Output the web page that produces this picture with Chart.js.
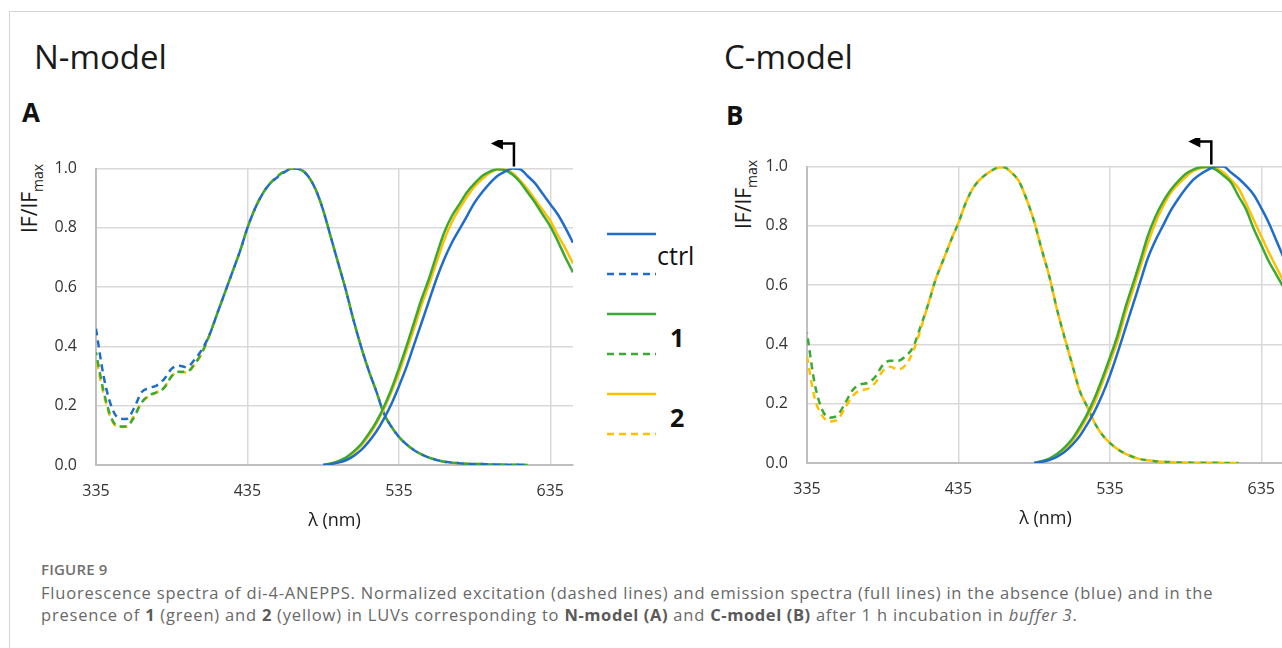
<!DOCTYPE html>
<html>
<head>
<meta charset="utf-8">
<script src="https://cdn.jsdelivr.net/npm/chart.js@4.4.1/dist/chart.umd.min.js"></script>
<style>
  html, body { margin: 0; padding: 0; background: #fff; overflow: hidden; }
  body { width: 1282px; height: 648px; position: relative; font-family: "Open Sans", sans-serif; }
  .frame { position: absolute; left: 9px; top: 11px; width: 1400px; height: 700px;
           border-left: 1.5px solid #d4d4d4; border-top: 1.5px solid #d4d4d4; }
  .model { position: absolute; font-size: 33px; color: #1a1a1a; line-height: 1; }
  .panel { position: absolute; font-size: 26px; font-weight: bold; color: #111; line-height: 1; }
  .ytitle { position: absolute; font-size: 21px; color: #1a1a1a; line-height: 1; white-space: nowrap;
            transform-origin: left top; transform: rotate(-90deg); }
  .ytitle sub { font-size: 14px; vertical-align: -6px; }
  canvas.chart { position: absolute; }
  .leg { position: absolute; }
  .legtxt { position: absolute; font-size: 25px; color: #111; line-height: 1; }
  .caption { position: absolute; left: 41px; top: 558px; width: 1240px; font-family: "Open Sans", sans-serif;
             color: #686868; font-size: 16.5px; line-height: 22px; letter-spacing: 0.8px; white-space: nowrap; }
  .caption .fig { color: #707070; font-size: 15px; font-weight: 600; letter-spacing: 0.2px; margin-bottom: 2px; }
  .caption b { font-weight: 700; color: #5a5a5a; letter-spacing: 0.6px; }
</style>
</head>
<body>
<div class="frame"></div>

<div class="model" style="left:34px; top:40px;">N-model</div>
<div class="model" style="left:724px; top:40px;">C-model</div>
<div class="panel" style="left:22px; top:99px;">A</div>
<div class="panel" style="left:726px; top:102px;">B</div>

<div class="ytitle" style="left:19px; top:233px;">IF/IF<sub>max</sub></div>
<div class="ytitle" style="left:733px; top:229px;">IF/IF<sub>max</sub></div>

<canvas id="chartA" class="chart" width="545" height="400" style="left:40px; top:140px;"></canvas>
<canvas id="chartB" class="chart" width="545" height="400" style="left:751px; top:138px;"></canvas>

<svg class="leg" style="left:600px; top:225px;" width="70" height="220">
  <line x1="7" y1="9" x2="56" y2="9" stroke="#1F6DC9" stroke-width="2.5"/>
  <line x1="7" y1="49" x2="56" y2="49" stroke="#1F6DC9" stroke-width="2.5" stroke-dasharray="7,5"/>
  <line x1="7" y1="89" x2="56" y2="89" stroke="#3BA935" stroke-width="2.5"/>
  <line x1="7" y1="129" x2="56" y2="129" stroke="#3BA935" stroke-width="2.5" stroke-dasharray="7,5"/>
  <line x1="7" y1="169" x2="56" y2="169" stroke="#FFC000" stroke-width="2.5"/>
  <line x1="7" y1="209" x2="56" y2="209" stroke="#FFC000" stroke-width="2.5" stroke-dasharray="7,5"/>
</svg>
<div class="legtxt" style="left:657px; top:243px;">ctrl</div>
<div class="legtxt" style="left:670px; top:325px; font-weight:bold;">1</div>
<div class="legtxt" style="left:670px; top:405px; font-weight:bold;">2</div>

<div class="caption">
  <div class="fig">FIGURE 9</div>
  <div>Fluorescence spectra of di-4-ANEPPS. Normalized excitation (dashed lines) and emission spectra (full lines) in the absence (blue) and in the<br>presence of <b>1</b> (green) and <b>2</b> (yellow) in LUVs corresponding to <b>N-model (A)</b> and <b>C-model (B)</b> after 1 h incubation in <i>buffer 3</i>.</div>
</div>

<script>
// Wellenlängen (nm)
const excWl = [335, 340, 345, 350, 355, 360, 365, 370, 375, 380, 385, 390, 395, 400, 405, 410,
  415, 420, 425, 430, 435, 440, 445, 450, 455, 460, 465, 470, 475, 480, 485, 490, 495, 500,
  505, 510, 515, 520, 525, 530, 535, 540, 545, 550, 555, 560, 565, 570, 575, 580, 585, 590,
  595, 600, 605, 610, 615, 620];
const emWl = [485, 490, 495, 500, 505, 510, 515, 520, 525, 530, 535, 540, 545, 550, 555, 560,
  565, 570, 575, 580, 585, 590, 595, 600, 605, 610, 615, 620, 625, 630, 635, 640, 645, 650];

// N-model (A): Anregung (gestrichelt)
const excCtrlA = [0.46, 0.30, 0.20, 0.158, 0.155, 0.19, 0.245, 0.26, 0.268, 0.29, 0.325, 0.335, 0.33, 0.355, 0.39, 0.44,
  0.51, 0.58, 0.65, 0.72, 0.80, 0.865, 0.915, 0.95, 0.972, 0.99, 1.0, 0.997, 0.975, 0.93, 0.86, 0.77, 0.68, 0.59,
  0.49, 0.40, 0.32, 0.25, 0.175, 0.13, 0.095, 0.07, 0.05, 0.036, 0.025, 0.017, 0.011, 0.008, 0.006, 0.004, 0.003, 0.003,
  0.002, 0.002, 0.001, 0.001, 0.001, 0.0];
const exc1A = [0.38, 0.25, 0.16, 0.13, 0.13, 0.16, 0.21, 0.235, 0.245, 0.26, 0.30, 0.315, 0.315, 0.34, 0.38, 0.44,
  0.51, 0.58, 0.65, 0.72, 0.80, 0.865, 0.915, 0.95, 0.975, 0.992, 1.0, 0.997, 0.975, 0.93, 0.86, 0.77, 0.68, 0.59,
  0.49, 0.40, 0.32, 0.25, 0.175, 0.13, 0.095, 0.07, 0.05, 0.036, 0.025, 0.017, 0.011, 0.008, 0.006, 0.004, 0.003, 0.003,
  0.002, 0.002, 0.001, 0.001, 0.001, 0.0];
const exc2A = [0.36, 0.24, 0.155, 0.128, 0.13, 0.165, 0.21, 0.232, 0.245, 0.262, 0.30, 0.313, 0.312, 0.338, 0.378, 0.438,
  0.51, 0.58, 0.65, 0.72, 0.80, 0.865, 0.915, 0.95, 0.975, 0.992, 1.0, 0.997, 0.975, 0.93, 0.86, 0.77, 0.68, 0.59,
  0.49, 0.40, 0.32, 0.25, 0.175, 0.13, 0.095, 0.07, 0.05, 0.036, 0.025, 0.017, 0.011, 0.008, 0.006, 0.004, 0.003, 0.003,
  0.002, 0.002, 0.001, 0.001, 0.001, 0.0];

// N-model (A): Emission (durchgezogen)
const emCtrlA = [0, 0.003, 0.008, 0.016, 0.03, 0.05, 0.078, 0.112, 0.155, 0.205, 0.265, 0.33, 0.405, 0.48, 0.555, 0.63,
  0.695, 0.75, 0.795, 0.84, 0.885, 0.92, 0.95, 0.975, 0.99, 1.0, 0.998, 0.975, 0.95, 0.915, 0.88, 0.845, 0.80, 0.75];
const em1A = [0, 0.005, 0.013, 0.025, 0.045, 0.07, 0.105, 0.145, 0.195, 0.255, 0.325, 0.40, 0.48, 0.56, 0.63, 0.71,
  0.785, 0.84, 0.88, 0.92, 0.95, 0.975, 0.99, 0.998, 0.995, 0.98, 0.955, 0.92, 0.885, 0.845, 0.805, 0.755, 0.70, 0.65];
const em2A = [0, 0.004, 0.011, 0.022, 0.04, 0.065, 0.098, 0.138, 0.188, 0.245, 0.31, 0.385, 0.46, 0.54, 0.61, 0.685,
  0.76, 0.82, 0.865, 0.905, 0.94, 0.965, 0.985, 0.997, 0.998, 0.985, 0.96, 0.93, 0.895, 0.86, 0.824, 0.775, 0.73, 0.68];

// C-model (B): Anregung (gestrichelt)
const exc1B = [0.44, 0.27, 0.18, 0.153, 0.16, 0.20, 0.245, 0.265, 0.27, 0.29, 0.33, 0.345, 0.345, 0.36, 0.39, 0.46,
  0.535, 0.62, 0.685, 0.75, 0.81, 0.88, 0.93, 0.96, 0.98, 0.995, 0.998, 0.98, 0.95, 0.89, 0.815, 0.72, 0.63, 0.52,
  0.425, 0.335, 0.245, 0.19, 0.135, 0.095, 0.068, 0.047, 0.032, 0.021, 0.013, 0.009, 0.006, 0.004, 0.003, 0.002, 0.002, 0.001,
  0.001, 0.001, 0.001, 0.0, 0.0, 0.0];
const exc2B = [0.36, 0.22, 0.16, 0.14, 0.145, 0.185, 0.225, 0.245, 0.25, 0.27, 0.31, 0.325, 0.315, 0.33, 0.375, 0.45,
  0.535, 0.62, 0.685, 0.75, 0.81, 0.88, 0.93, 0.96, 0.98, 0.995, 0.998, 0.98, 0.95, 0.89, 0.815, 0.72, 0.63, 0.52,
  0.425, 0.335, 0.245, 0.19, 0.135, 0.095, 0.068, 0.047, 0.032, 0.021, 0.013, 0.009, 0.006, 0.004, 0.003, 0.002, 0.002, 0.001,
  0.001, 0.001, 0.001, 0.0, 0.0, 0.0];

// C-model (B): Emission (durchgezogen)
const emCtrlB = [0, 0.004, 0.01, 0.021, 0.037, 0.06, 0.09, 0.13, 0.175, 0.23, 0.295, 0.37, 0.45, 0.53, 0.61, 0.69,
  0.75, 0.80, 0.85, 0.89, 0.925, 0.955, 0.975, 0.99, 1.0, 1.0, 0.98, 0.96, 0.935, 0.905, 0.86, 0.81, 0.75, 0.69];
const em1B = [0, 0.006, 0.015, 0.03, 0.052, 0.08, 0.12, 0.165, 0.22, 0.285, 0.355, 0.43, 0.52, 0.60, 0.68, 0.765,
  0.83, 0.88, 0.92, 0.95, 0.975, 0.99, 0.998, 0.998, 0.99, 0.97, 0.946, 0.90, 0.855, 0.79, 0.735, 0.68, 0.635, 0.59];
const em2B = [0, 0.005, 0.013, 0.027, 0.047, 0.073, 0.11, 0.155, 0.205, 0.27, 0.34, 0.41, 0.50, 0.58, 0.66, 0.74,
  0.81, 0.865, 0.91, 0.94, 0.965, 0.985, 0.995, 1.0, 0.995, 0.98, 0.955, 0.926, 0.875, 0.82, 0.765, 0.71, 0.66, 0.61];

// Achsen
const xTicks = [335, 435, 535, 635];
const yTicks = [0, 0.2, 0.4, 0.6, 0.8, 1.0];
// Position des Pfeils (Verschiebung des Maximums)
const arrowA = 611;
const arrowB = 602;

const BLUE = "#1F6DC9";
const GREEN = "#3BA935";
const YELLOW = "#FFC000";

function pts(wl, values) {
  return wl.map((w, i) => ({ x: w, y: values[i] }));
}

function line(values, wl, color, dashed, offset) {
  return {
    data: pts(wl, values),
    borderColor: color,
    borderWidth: 2.5,
    borderDash: dashed ? [7, 5] : [],
    borderDashOffset: offset || 0,
    pointRadius: 0,
    cubicInterpolationMode: "monotone",
    fill: false,
  };
}

// Pfeil über dem Maximum
const arrowPlugin = {
  id: "shiftArrow",
  afterDatasetsDraw(chart, args, opts) {
    const ctx = chart.ctx;
    const x = chart.scales.x.getPixelForValue(opts.at);
    const y0 = chart.scales.y.getPixelForValue(1.0) - 2;
    const y1 = y0 - 23;
    ctx.save();
    ctx.strokeStyle = "#000";
    ctx.fillStyle = "#000";
    ctx.lineWidth = 2.5;
    ctx.beginPath();
    ctx.moveTo(x, y0);
    ctx.lineTo(x, y1);
    ctx.lineTo(x - 12, y1);
    ctx.stroke();
    ctx.beginPath();
    ctx.moveTo(x - 11, y1 - 6);
    ctx.lineTo(x - 23, y1);
    ctx.lineTo(x - 11, y1 + 6);
    ctx.closePath();
    ctx.fill();
    ctx.restore();
  },
};

function makeConfig(datasets, arrowAt) {
  return {
    type: "line",
    data: { datasets: datasets },
    plugins: [arrowPlugin],
    options: {
      animation: false,
      responsive: false,
      events: [],
      layout: { padding: { top: 12, right: 12, bottom: 0, left: 0 } },
      plugins: {
        legend: { display: false },
        tooltip: { enabled: false },
        shiftArrow: { at: arrowAt },
      },
      scales: {
        x: {
          type: "linear",
          min: 335,
          max: 650,
          afterBuildTicks: (scale) => {
            scale.ticks = xTicks.map((v) => ({ value: v }));
          },
          afterFit: (scale) => {
            scale.height = 75;
          },
          grid: { color: "#d9d9d9", lineWidth: 1.5, drawTicks: false },
          border: { color: "#bfbfbf", width: 2 },
          ticks: {
            padding: 17,
            color: "#333",
            font: { family: "Open Sans", size: 16 },
            maxRotation: 0,
          },
          title: {
            display: true,
            text: "λ (nm)",
            color: "#1a1a1a",
            font: { family: "Open Sans", size: 18 },
            padding: { top: 0, bottom: 8 },
          },
        },
        y: {
          min: 0,
          max: 1.0,
          afterBuildTicks: (scale) => {
            scale.ticks = yTicks.map((v) => ({ value: v }));
          },
          afterFit: (scale) => {
            scale.width = 56;
          },
          grid: { color: "#d9d9d9", lineWidth: 1.5, drawTicks: false },
          border: { color: "#bfbfbf", width: 2 },
          ticks: {
            padding: 19,
            color: "#333",
            font: { family: "Open Sans", size: 16 },
            callback: (v) => Number(v).toFixed(1),
          },
        },
      },
    },
  };
}

const chartA = new Chart(
  document.getElementById("chartA").getContext("2d"),
  makeConfig(
    [
      line(emCtrlA, emWl, BLUE, false),
      line(em1A, emWl, GREEN, false),
      line(em2A, emWl, YELLOW, false),
      line(excCtrlA, excWl, BLUE, true, 0),
      line(exc1A, excWl, GREEN, true, 4),
      line(exc2A, excWl, YELLOW, true, 8),
    ],
    arrowA
  )
);

const chartB = new Chart(
  document.getElementById("chartB").getContext("2d"),
  makeConfig(
    [
      line(emCtrlB, emWl, BLUE, false),
      line(em1B, emWl, GREEN, false),
      line(em2B, emWl, YELLOW, false),
      line(exc2B, excWl, YELLOW, true, 0),
      line(exc1B, excWl, GREEN, true, 6),
    ],
    arrowB
  )
);
</script>
</body>
</html>
